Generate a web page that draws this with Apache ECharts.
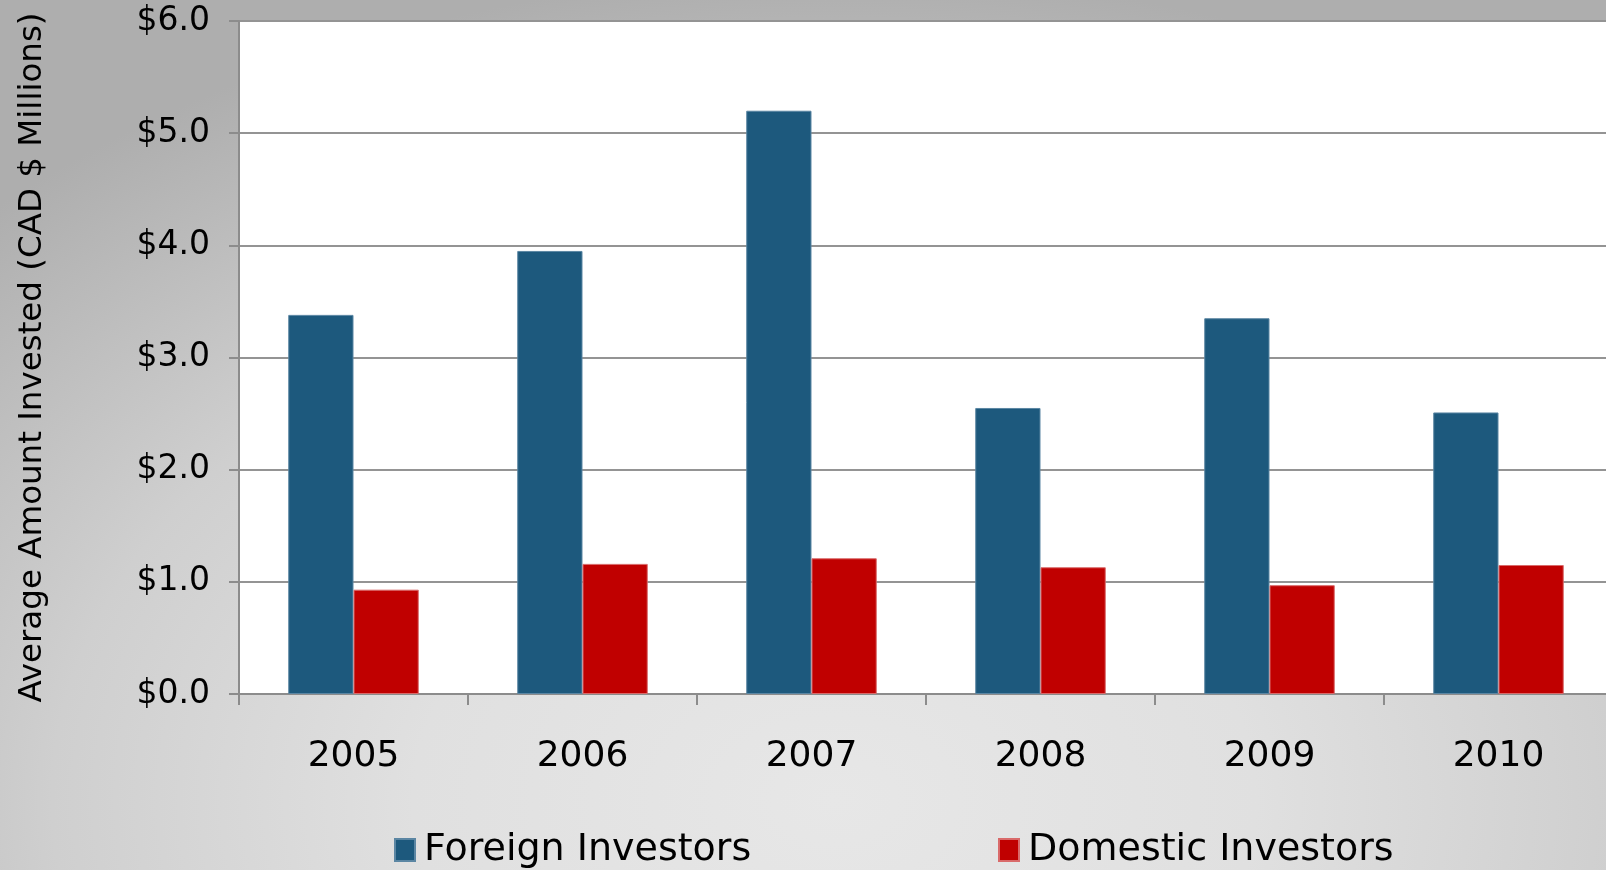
<!DOCTYPE html>
<html>
<head>
<meta charset="utf-8">
<script src="https://cdn.jsdelivr.net/npm/echarts@6/dist/echarts.min.js"></script>
<style>
  html, body { margin: 0; padding: 0; }
  body {
    width: 1606px; height: 870px; overflow: hidden;
    background: radial-gradient(ellipse 75% 95% at 52% 92%, #e7e7e7 0%, #e0e0e0 35%, #cfcfcf 65%, #aeaeae 100%);
  }
  #chart { width: 1606px; height: 870px; }
</style>
</head>
<body>
<div id="chart"></div>
<script>
var years = ['2005', '2006', '2007', '2008', '2009', '2010'];
var foreign = [3.38, 3.95, 5.2, 2.55, 3.35, 2.51];
var domestic = [0.93, 1.16, 1.21, 1.13, 0.97, 1.15];
var yTicks = { min: 0, max: 6, interval: 1 };

var chart = echarts.init(document.getElementById('chart'));

var font = 'DejaVu Sans';

var option = {
  backgroundColor: 'transparent',
  animation: false,
  grid: {
    left: 239,
    top: 21,
    width: 1374,
    bottom: 176,
    outerBoundsMode: 'none',
    show: true,
    backgroundColor: '#ffffff',
    borderWidth: 0
  },
  legend: [
    {
      data: ['Foreign Investors'],
      left: 389,
      top: 826,
      icon: 'rect',
      itemWidth: 20,
      itemHeight: 22,
      textStyle: { fontFamily: font, fontSize: 38, color: '#000', padding: [0, 0, 0, 4] }
    },
    {
      data: ['Domestic Investors'],
      left: 993,
      top: 826,
      icon: 'rect',
      itemWidth: 20,
      itemHeight: 22,
      textStyle: { fontFamily: font, fontSize: 38, color: '#000', padding: [0, 0, 0, 4] }
    }
  ],
  xAxis: {
    type: 'category',
    data: years,
    axisLine: { lineStyle: { color: '#8c8c8c', width: 2 } },
    axisTick: { show: true, length: 11, lineStyle: { color: '#8c8c8c', width: 2 } },
    axisLabel: { fontFamily: font, fontSize: 36, color: '#000', margin: 45 }
  },
  yAxis: {
    type: 'value',
    min: yTicks.min,
    max: yTicks.max,
    interval: yTicks.interval,
    name: 'Average Amount Invested (CAD $ Millions)',
    nameLocation: 'middle',
    nameRotate: 90,
    nameGap: 190,
    nameTextStyle: { fontFamily: font, fontSize: 32.5, color: '#000' },
    axisLine: { show: true, lineStyle: { color: '#8c8c8c', width: 2 } },
    axisTick: { show: true, length: 10, lineStyle: { color: '#8c8c8c', width: 2 } },
    axisLabel: {
      fontFamily: font, fontSize: 33, color: '#000', margin: 29,
      formatter: function (v) { return '$' + v.toFixed(1); }
    },
    splitLine: { lineStyle: { color: '#949494', width: 2 } }
  },
  series: [
    {
      name: 'Foreign Investors',
      type: 'bar',
      data: foreign,
      barGap: '0%',
      barCategoryGap: '43%',
      itemStyle: { color: '#1d597d', borderColor: '#5b86a3', borderWidth: 1 }
    },
    {
      name: 'Domestic Investors',
      type: 'bar',
      data: domestic,
      itemStyle: { color: '#c00000', borderColor: '#d96a6a', borderWidth: 1 }
    }
  ]
};

chart.setOption(option);
</script>
</body>
</html>
